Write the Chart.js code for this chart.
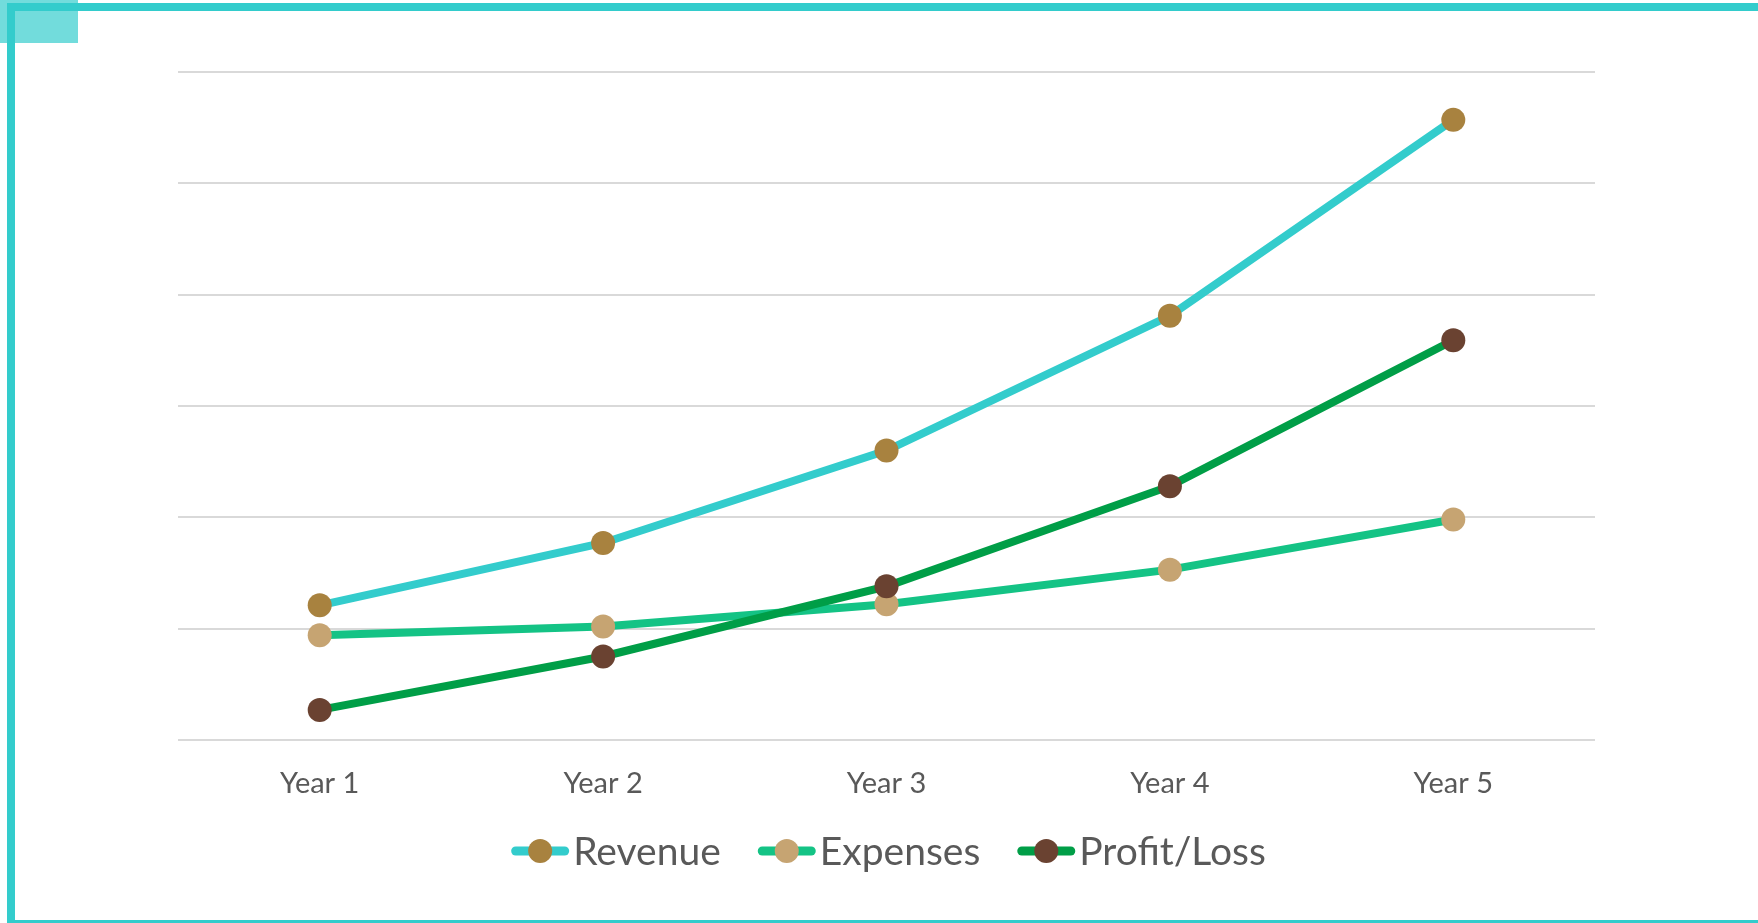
<!DOCTYPE html>
<html>
<head>
<meta charset="utf-8">
<script src="https://cdn.jsdelivr.net/npm/chart.js@4.4.1/dist/chart.umd.min.js"></script>
<style>
  html, body { margin: 0; padding: 0; background: #ffffff; overflow: hidden; }
  #wrap { position: relative; width: 1758px; height: 923px; }
  #c { position: absolute; left: 0; top: 0; }
  .deco { position: absolute; }
</style>
</head>
<body>
<div id="wrap">
  <canvas id="c" width="1758" height="923"></canvas>
  <div class="deco" style="left:0;top:0;width:78px;height:43px;background:#72dcdc;"></div>
  <div class="deco" style="left:7px;top:3px;width:1751px;height:8px;background:#33cccc;"></div>
  <div class="deco" style="left:7px;top:3px;width:8px;height:920px;background:#33cccc;"></div>
  <div class="deco" style="left:7px;top:920px;width:1751px;height:3px;background:#33cccc;"></div>
</div>
<script>
const categories = ['Year 1', 'Year 2', 'Year 3', 'Year 4', 'Year 5'];
const seriesNames = ['Revenue', 'Expenses', 'Profit/Loss'];
const revenue  = [12.1, 17.7, 26.0, 38.1, 55.7];
const expenses = [9.4, 10.2, 12.2, 15.3, 19.8];
const profit   = [2.7, 7.5, 13.8, 22.8, 35.9];
const yTicks = [0, 10, 20, 30, 40, 50, 60];

const lineColors   = ['#33cccc', '#14c385', '#009e47'];
const markerColors = ['#a8823f', '#c6a472', '#6a4231'];
const FONT = 'Lato, "Open Sans", sans-serif';

const legendPlugin = {
  id: 'customLegend',
  afterDraw(chart) {
    const ctx = chart.ctx;
    const ca = chart.chartArea;
    ctx.save();
    ctx.font = '39px ' + FONT;
    const markW = 58, gapT = 4, gapItem = 37;
    const items = chart.data.datasets.map(ds => ({
      label: ds.label, line: ds.borderColor, mark: ds.pointBackgroundColor,
      w: markW + gapT + ctx.measureText(ds.label).width
    }));
    const total = items.reduce((s, it) => s + it.w, 0) + gapItem * (items.length - 1);
    let x = (ca.left + ca.right) / 2 - total / 2 + 2;
    const y = 851;
    items.forEach(it => {
      ctx.strokeStyle = it.line;
      ctx.lineWidth = 9;
      ctx.lineCap = 'round';
      ctx.beginPath();
      ctx.moveTo(x + 4.5, y);
      ctx.lineTo(x + markW - 4.5, y);
      ctx.stroke();
      ctx.fillStyle = it.mark;
      ctx.beginPath();
      ctx.arc(x + markW / 2, y, 12, 0, Math.PI * 2);
      ctx.fill();
      ctx.fillStyle = '#595959';
      ctx.textBaseline = 'middle';
      ctx.textAlign = 'left';
      ctx.fillText(it.label, x + markW + gapT, y + 1);
      x += it.w + gapItem;
    });
    ctx.restore();
  }
};

const seriesData = [revenue, expenses, profit];
const orders = [3, 2, 1];

new Chart(document.getElementById('c'), {
  type: 'line',
  data: {
    labels: categories,
    datasets: seriesData.map((d, i) => ({
      label: seriesNames[i],
      data: d,
      borderColor: lineColors[i],
      backgroundColor: lineColors[i],
      borderWidth: 8,
      pointRadius: 12,
      pointHoverRadius: 12,
      pointBorderWidth: 0,
      pointBackgroundColor: markerColors[i],
      pointBorderColor: markerColors[i],
      tension: 0,
      fill: false,
      order: orders[i]
    }))
  },
  options: {
    responsive: false,
    animation: false,
    devicePixelRatio: 1,
    layout: { padding: { left: 178, right: 163, top: 72, bottom: 0 } },
    plugins: { legend: { display: false }, tooltip: { enabled: false } },
    scales: {
      x: {
        offset: true,
        grid: { display: false, drawTicks: false },
        border: { display: false },
        ticks: { color: '#595959', font: { family: FONT, size: 29 }, padding: 26 },
        afterFit(scale) { scale.height = 183; }
      },
      y: {
        min: yTicks[0],
        max: yTicks[yTicks.length - 1],
        afterBuildTicks(scale) { scale.ticks = yTicks.map(v => ({ value: v })); },
        grid: { color: '#d9d9d9', lineWidth: 2, drawTicks: false },
        border: { display: false },
        ticks: { display: false },
        afterFit(scale) { scale.width = 0; }
      }
    }
  },
  plugins: [legendPlugin]
});
</script>
</body>
</html>
